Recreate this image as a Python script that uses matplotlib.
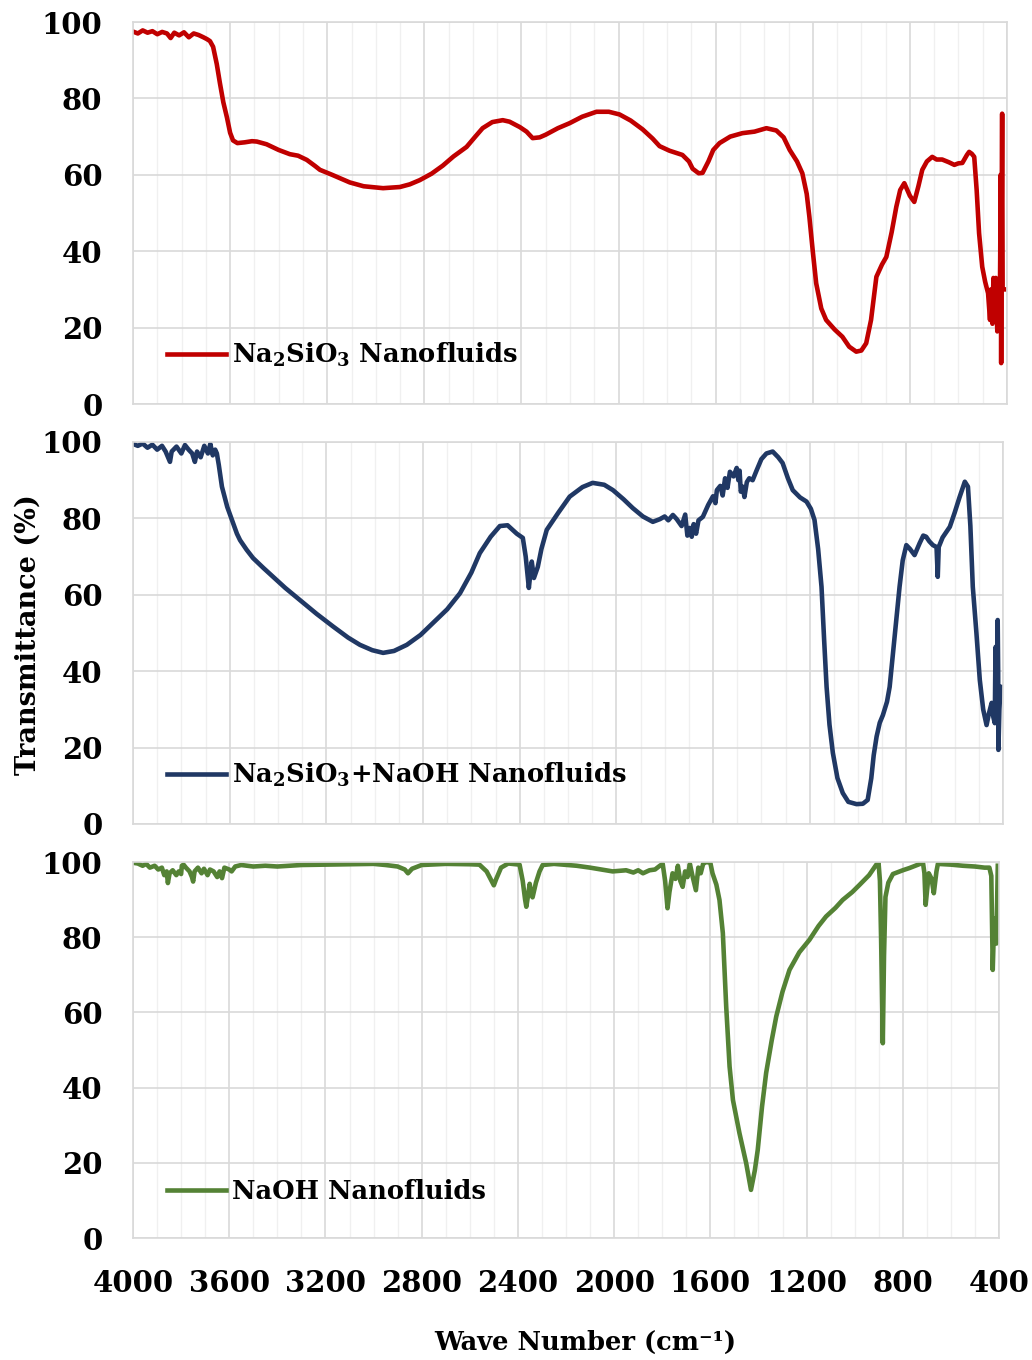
import matplotlib
matplotlib.use("Agg")
import matplotlib.pyplot as plt
from matplotlib.ticker import MultipleLocator

plt.rcParams['font.family'] = ['DejaVu Serif']
plt.rcParams['font.weight'] = 'bold'
plt.rcParams['mathtext.fontset'] = 'custom'
plt.rcParams['mathtext.rm'] = 'DejaVu Serif:bold'
plt.rcParams['mathtext.it'] = 'DejaVu Serif:bold'
plt.rcParams['mathtext.bf'] = 'DejaVu Serif:bold'

# Na2SiO3 nanofluids (red)
wn_silicate = [4000, 3980, 3960, 3940, 3920, 3900, 3880, 3860, 3845, 3830, 3810, 3790, 3770, 3750,
               3730, 3710, 3695, 3683, 3670, 3655, 3642, 3628, 3613, 3600, 3588, 3570, 3540, 3510,
               3490, 3450, 3400, 3354, 3320, 3284, 3250, 3230, 3180, 3107, 3050, 2970, 2901, 2860,
               2819, 2770, 2724, 2680, 2626, 2590, 2560, 2520, 2477, 2449, 2407, 2379, 2354, 2325,
               2300, 2250, 2202, 2150, 2091, 2040, 1996, 1950, 1901, 1860, 1831, 1790, 1737, 1710,
               1695, 1670, 1654, 1630, 1610, 1584, 1540, 1490, 1440, 1391, 1350, 1320, 1295, 1265,
               1243, 1225, 1214, 1200, 1186, 1165, 1145, 1110, 1078, 1050, 1021, 1000, 980, 960,
               938, 915, 897, 875, 856, 840, 823, 800, 782, 765, 749, 730, 708, 690, 667, 640, 617,
               600, 584, 565, 556, 545, 535, 525, 515, 502, 490, 478, 470, 466, 460, 456, 450, 446,
               440, 436, 430, 428, 426, 424, 422, 420, 418, 412]
t_silicate = [97.5, 97.0, 97.8, 97.2, 97.6, 96.8, 97.4, 97.0, 95.8, 97.2, 96.5, 97.3, 96.0, 97.0,
              96.6, 96.0, 95.5, 95.0, 93.5, 89.0, 84.0, 79.0, 75.0, 71.0, 69.0, 68.3, 68.5, 68.8,
              68.7, 68.0, 66.5, 65.4, 65.0, 63.9, 62.3, 61.3, 60.0, 58.0, 57.0, 56.5, 56.8, 57.5,
              58.6, 60.3, 62.4, 64.8, 67.3, 70.0, 72.2, 73.8, 74.3, 73.9, 72.5, 71.3, 69.6, 69.8,
              70.5, 72.2, 73.5, 75.2, 76.5, 76.5, 75.8, 74.2, 71.9, 69.5, 67.5, 66.3, 65.2, 63.5,
              61.6, 60.4, 60.5, 63.5, 66.5, 68.3, 70.0, 70.9, 71.3, 72.2, 71.6, 69.8, 66.5, 63.5,
              60.4, 55.0, 49.0, 40.0, 31.6, 25.0, 22.0, 19.5, 17.6, 15.0, 13.7, 14.0, 15.9, 22.0,
              33.3, 36.5, 38.5, 45.0, 51.6, 56.0, 57.8, 54.5, 52.9, 57.0, 61.3, 63.5, 64.7, 64.0,
              64.0, 63.3, 62.6, 63.0, 63.1, 65.2, 66.0, 65.5, 64.7, 56.0, 44.7, 35.9, 32.0, 29.0,
              22.0, 30.0, 21.0, 33.0, 24.0, 33.0, 19.0, 32.0, 23.0, 38.0, 60.0, 10.7, 50.0, 76.0,
              30.0, 30.0]

# Na2SiO3 + NaOH nanofluids (navy)
wn_mix = [4000, 3980, 3960, 3940, 3920, 3900, 3880, 3865, 3855, 3847, 3840, 3820, 3800, 3785, 3770,
          3755, 3744, 3735, 3720, 3705, 3690, 3680, 3670, 3660, 3653, 3645, 3632, 3610, 3586, 3570,
          3557, 3530, 3503, 3460, 3420, 3370, 3309, 3240, 3172, 3110, 3061, 3010, 2965, 2920, 2867,
          2810, 2759, 2700, 2647, 2600, 2565, 2520, 2482, 2450, 2412, 2387, 2375, 2362, 2355, 2350,
          2341, 2325, 2310, 2288, 2240, 2193, 2140, 2098, 2050, 2014, 1970, 1932, 1890, 1849, 1820,
          1800, 1785, 1766, 1750, 1730, 1715, 1706, 1696, 1688, 1680, 1670, 1660, 1642, 1620, 1600,
          1590, 1584, 1570, 1560, 1550, 1540, 1530, 1515, 1502, 1495, 1490, 1485, 1477, 1470, 1460,
          1450, 1436, 1420, 1400, 1379, 1353, 1330, 1312, 1290, 1270, 1240, 1213, 1195, 1180, 1165,
          1151, 1140, 1130, 1118, 1104, 1085, 1063, 1040, 1006, 980, 960, 945, 935, 923, 910, 897,
          880, 869, 850, 828, 815, 800, 785, 766, 745, 730, 718, 705, 690, 675, 670, 666, 650, 620,
          600, 580, 558, 545, 535, 525, 510, 496, 482, 468, 458, 447, 440, 434, 432, 430, 428, 425,
          422, 420, 419, 415, 410]
t_mix = [99.5, 99.0, 99.6, 98.5, 99.3, 98.0, 99.0, 97.5, 96.0, 94.8, 97.5, 98.8, 97.0, 99.2, 98.0,
         97.0, 94.8, 97.5, 96.0, 99.0, 97.0, 99.5, 96.5, 98.0, 97.0, 94.0, 88.3, 83.0, 78.8, 76.0,
         74.3, 71.8, 69.6, 67.0, 64.7, 61.8, 58.6, 55.0, 51.7, 48.8, 46.9, 45.5, 44.8, 45.3, 46.9,
         49.5, 52.6, 56.2, 60.4, 65.8, 70.9, 75.2, 78.0, 78.2, 76.0, 74.9, 70.0, 61.8, 66.0, 68.7,
         64.4, 67.3, 72.0, 77.0, 81.5, 85.7, 88.2, 89.3, 88.8, 87.4, 85.0, 82.7, 80.5, 79.1, 79.8,
         80.5, 79.5, 80.9, 79.8, 78.0, 81.0, 75.5, 77.5, 75.2, 78.5, 76.0, 79.5, 80.4, 83.5, 85.8,
         84.0, 87.4, 88.5, 86.0, 90.5, 88.0, 92.2, 91.0, 93.2, 90.0, 92.5, 87.0, 88.3, 85.6, 89.5,
         90.5, 90.0, 92.5, 95.5, 97.0, 97.5, 96.0, 94.5, 90.5, 87.4, 85.5, 84.4, 82.5, 79.6, 72.0,
         62.1, 48.0, 35.9, 26.0, 18.6, 12.0, 8.1, 5.8, 5.2, 5.3, 6.3, 12.0, 18.0, 22.9, 26.5, 28.5,
         32.0, 35.9, 48.0, 62.1, 69.0, 73.0, 72.0, 70.4, 73.5, 75.5, 75.2, 74.0, 73.0, 72.5, 64.7,
         72.5, 75.0, 77.8, 81.5, 85.5, 89.6, 88.3, 78.0, 62.1, 50.0, 37.7, 30.0, 25.9, 29.0, 31.7,
         28.0, 26.4, 40.0, 46.4, 30.0, 38.0, 53.4, 40.0, 19.4, 30.0, 35.9]

# NaOH nanofluids (green)
wn_naoh = [4000, 3980, 3960, 3945, 3930, 3910, 3895, 3880, 3870, 3860, 3855, 3848, 3835, 3820, 3810,
           3800, 3797, 3790, 3780, 3765, 3755, 3750, 3744, 3730, 3715, 3705, 3690, 3680, 3665, 3650,
           3640, 3630, 3620, 3600, 3590, 3575, 3550, 3500, 3450, 3400, 3300, 3200, 3100, 3000, 2950,
           2900, 2870, 2857, 2840, 2800, 2700, 2600, 2560, 2530, 2510, 2500, 2490, 2470, 2440, 2393,
           2380, 2370, 2365, 2358, 2351, 2345, 2339, 2325, 2310, 2297, 2250, 2156, 2100, 2006, 1950,
           1920, 1900, 1880, 1853, 1830, 1810, 1798, 1788, 1778, 1770, 1757, 1745, 1735, 1725, 1715,
           1705, 1695, 1685, 1675, 1660, 1650, 1640, 1630, 1617, 1600, 1591, 1575, 1562, 1548, 1534,
           1520, 1506, 1479, 1451, 1431, 1415, 1403, 1385, 1368, 1345, 1326, 1300, 1271, 1230, 1188,
           1150, 1119, 1080, 1050, 1010, 980, 940, 911, 901, 895, 890, 883, 878, 872, 860, 841, 800,
           772, 740, 716, 710, 705, 698, 692, 680, 671, 660, 654, 600, 550, 500, 460, 440, 432, 428,
           426, 420, 411, 405]
t_naoh = [99.8, 99.6, 99.0, 99.5, 98.5, 99.0, 98.0, 98.5, 96.5, 97.5, 94.4, 97.0, 97.8, 96.5, 97.5,
          96.8, 99.0, 99.3, 98.5, 97.5, 96.0, 94.8, 97.5, 98.5, 97.0, 98.2, 96.5, 98.0, 97.5, 96.0,
          97.5, 95.7, 98.5, 98.0, 97.5, 98.8, 99.2, 98.8, 99.0, 98.8, 99.2, 99.3, 99.4, 99.5, 99.2,
          98.8, 98.0, 97.0, 98.2, 99.2, 99.5, 99.4, 99.3, 97.5, 95.0, 93.8, 95.5, 98.5, 99.6, 99.3,
          95.0, 90.0, 88.1, 91.0, 94.2, 91.5, 90.6, 94.5, 97.5, 99.2, 99.5, 99.0, 98.5, 97.5, 97.8,
          97.2, 97.8, 97.0, 97.8, 98.0, 99.0, 99.5, 95.0, 87.7, 92.0, 97.0, 95.5, 99.0, 95.0, 93.4,
          97.5, 96.0, 99.5, 96.5, 92.5, 98.5, 97.0, 99.5, 100.0, 99.8, 97.0, 94.0, 89.9, 81.1, 61.5,
          45.6, 36.7, 27.9, 19.9, 12.8, 18.0, 23.4, 35.0, 43.9, 52.5, 58.9, 65.5, 71.3, 76.0, 79.3,
          83.0, 85.5, 87.8, 89.9, 92.0, 93.9, 96.5, 99.2, 100.0, 95.0, 79.3, 51.8, 75.0, 90.7, 94.5,
          96.8, 97.8, 98.4, 99.2, 99.8, 97.0, 88.6, 93.0, 97.0, 95.5, 91.7, 97.5, 99.5, 99.3, 99.0,
          98.8, 98.5, 98.5, 96.3, 80.0, 71.3, 85.0, 78.3, 99.0]

series = [
    (wn_silicate, t_silicate, '#C00000', 'Na$_2$SiO$_3$ Nanofluids'),
    (wn_mix, t_mix, '#203864', 'Na$_2$SiO$_3$+NaOH Nanofluids'),
    (wn_naoh, t_naoh, '#548235', 'NaOH Nanofluids'),
]

W, H = 1032, 1360
fig = plt.figure(figsize=(W / 100, H / 100), dpi=100)

# panel boxes in pixels: left, top, right, bottom
boxes = [(133, 22, 1007, 404), (133, 442, 1003, 824), (133, 862, 999, 1238)]

tick_size = 21
for i, ((x, y, color, label), (l, t, r, b)) in enumerate(zip(series, boxes)):
    ax = fig.add_axes([l / W, 1 - b / H, (r - l) / W, (b - t) / H])
    ax.plot(x, y, color=color, lw=3.3, label=label, solid_joinstyle='round')
    ax.set_xlim(4000, 400)
    ax.set_ylim(0, 100)
    ax.xaxis.set_major_locator(MultipleLocator(400))
    ax.xaxis.set_minor_locator(MultipleLocator(100))
    ax.yaxis.set_major_locator(MultipleLocator(20))
    ax.grid(which='major', color='#D9D9D9', lw=1.2)
    ax.grid(which='minor', axis='x', color='#F0F0F0', lw=1.0)
    ax.set_axisbelow(True)
    for s in ax.spines.values():
        s.set_color('#D9D9D9')
        s.set_linewidth(1.2)
    ax.tick_params(which='both', length=0)
    ax.tick_params(axis='y', labelsize=tick_size, pad=22)
    ax.tick_params(axis='x', labelsize=tick_size, pad=22)
    if i < 2:
        ax.tick_params(axis='x', labelbottom=False)
    ax.legend(loc='lower left', bbox_to_anchor=(0.021, 0.05), frameon=False,
              fontsize=18.5, handlelength=2.3, handletextpad=0.25, borderaxespad=0.2)

fig.text(28 / W, 1 - 635 / H, 'Transmittance (%)', rotation=90, ha='center', va='center',
         fontsize=19.5, fontweight='bold')
fig.text(585 / W, 1 - 1342 / H, 'Wave Number (cm\u207b\u00b9)', ha='center', va='center',
         fontsize=18.5, fontweight='bold')

fig.savefig('out.png', dpi=100)
